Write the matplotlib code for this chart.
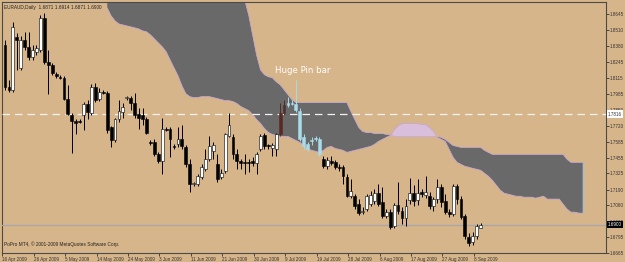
import matplotlib
matplotlib.use("Agg")
import matplotlib.pyplot as plt
import numpy as np

# ---------------- data ----------------
title_text = "EURAUD,Daily  1.6871 1.6914 1.6871 1.6900"
footer_text = "PoPro MT4, \u00a9 2001-2009 MetaQuotes Software Corp."
annotation_text = "Huge Pin bar"

opens = [1.8389, 1.8043, 1.8018, 1.8455, 1.8199, 1.8431, 1.8373, 1.8290, 1.8332, 1.8348,
         1.8612, 1.8249, 1.8224, 1.8150, 1.8125, 1.8117, 1.7944, 1.7812, 1.7762, 1.7762,
         1.7812, 1.7903, 1.7828, 1.8043, 1.7944, 1.8002, 1.7994, 1.7705, 1.7597, 1.7771,
         1.7837, 1.7952, 1.7952, 1.7911, 1.7820, 1.7812, 1.7779, 1.7581, 1.7581, 1.7482,
         1.7424, 1.7688, 1.7688, 1.7548, 1.7564, 1.7606, 1.7540, 1.7399, 1.7234, 1.7234,
         1.7292, 1.7358, 1.7441, 1.7507, 1.7399, 1.7292, 1.7342, 1.7630, 1.7622, 1.7482,
         1.7424, 1.7416, 1.7416, 1.7424, 1.7408, 1.7523, 1.7639, 1.7556, 1.7531, 1.7523,
         1.7647, 1.7828, 1.7894, 1.7911, 1.7903, 1.7845, 1.7622, 1.7564, 1.7597, 1.7614,
         1.7606, 1.7441, 1.7383, 1.7424, 1.7416, 1.7375, 1.7375, 1.7292, 1.7135, 1.7135,
         1.7069, 1.7003, 1.7028, 1.7069, 1.7094, 1.7160, 1.7086, 1.6970, 1.7003, 1.6888,
         1.7061, 1.7012, 1.6954, 1.7102, 1.7160, 1.7102, 1.7168, 1.7144, 1.7135, 1.7053,
         1.7111, 1.7210, 1.7094, 1.7003, 1.6987, 1.7218, 1.7111, 1.6970, 1.6797, 1.6756,
         1.6805, 1.6871]
highs = [1.8431, 1.8101, 1.8579, 1.8488, 1.8464, 1.8497, 1.8497, 1.8389, 1.8389, 1.8637,
         1.8653, 1.8348, 1.8241, 1.8166, 1.8142, 1.8134, 1.8059, 1.7828, 1.7779, 1.7771,
         1.7919, 1.7936, 1.8068, 1.8076, 1.8035, 1.8018, 1.8010, 1.7721, 1.7787, 1.7936,
         1.7911, 1.7969, 1.7969, 1.7994, 1.7870, 1.7870, 1.7795, 1.7597, 1.7606, 1.7498,
         1.7787, 1.7705, 1.7705, 1.7564, 1.7705, 1.7729, 1.7556, 1.7441, 1.7251, 1.7317,
         1.7399, 1.7523, 1.7630, 1.7581, 1.7482, 1.7358, 1.7663, 1.7828, 1.7647, 1.7523,
         1.7441, 1.7482, 1.7441, 1.7457, 1.7498, 1.7647, 1.7663, 1.7564, 1.7573, 1.7663,
         1.7911, 1.7936, 1.7960, 1.7936, 1.8101, 1.7870, 1.7647, 1.7581, 1.7622, 1.7630,
         1.7622, 1.7465, 1.7457, 1.7465, 1.7432, 1.7399, 1.7391, 1.7317, 1.7276, 1.7152,
         1.7111, 1.7045, 1.7152, 1.7177, 1.7193, 1.7234, 1.7210, 1.7028, 1.7028, 1.7078,
         1.7251, 1.7045, 1.7111, 1.7284, 1.7226, 1.7276, 1.7193, 1.7300, 1.7168, 1.7127,
         1.7276, 1.7234, 1.7152, 1.7028, 1.7234, 1.7234, 1.7135, 1.6987, 1.6830, 1.6838,
         1.6904, 1.6914]
lows = [1.8018, 1.8002, 1.8002, 1.8183, 1.8183, 1.8348, 1.8265, 1.8265, 1.8307, 1.8332,
        1.8233, 1.7985, 1.8142, 1.8117, 1.8109, 1.7936, 1.7804, 1.7490, 1.7647, 1.7738,
        1.7680, 1.7771, 1.7812, 1.7919, 1.7927, 1.7985, 1.7663, 1.7540, 1.7581, 1.7754,
        1.7787, 1.7936, 1.7853, 1.7787, 1.7688, 1.7729, 1.7647, 1.7556, 1.7465, 1.7408,
        1.7317, 1.7672, 1.7457, 1.7523, 1.7540, 1.7523, 1.7375, 1.7168, 1.7218, 1.7218,
        1.7276, 1.7342, 1.7424, 1.7441, 1.7251, 1.7276, 1.7325, 1.7622, 1.7441, 1.7358,
        1.7358, 1.7317, 1.7333, 1.7383, 1.7317, 1.7507, 1.7523, 1.7523, 1.7465, 1.7465,
        1.7630, 1.7812, 1.7878, 1.7894, 1.7837, 1.7589, 1.7523, 1.7507, 1.7556, 1.7589,
        1.7465, 1.7366, 1.7358, 1.7391, 1.7358, 1.7342, 1.7234, 1.7127, 1.7119, 1.7028,
        1.6979, 1.6987, 1.7012, 1.7053, 1.7069, 1.7053, 1.6954, 1.6954, 1.6863, 1.6871,
        1.6987, 1.6904, 1.6888, 1.7069, 1.7053, 1.7061, 1.7127, 1.7119, 1.7028, 1.7012,
        1.7078, 1.7045, 1.6987, 1.6962, 1.6970, 1.7069, 1.6946, 1.6781, 1.6723, 1.6731,
        1.6781, 1.6871]
closes = [1.8043, 1.8018, 1.8538, 1.8431, 1.8431, 1.8373, 1.8290, 1.8348, 1.8365, 1.8612,
          1.8249, 1.8224, 1.8158, 1.8134, 1.8117, 1.7944, 1.7820, 1.7762, 1.7738, 1.7746,
          1.7903, 1.7837, 1.8043, 1.7936, 1.8002, 1.7994, 1.7680, 1.7597, 1.7771, 1.7845,
          1.7878, 1.7960, 1.7911, 1.7804, 1.7787, 1.7779, 1.7663, 1.7573, 1.7482, 1.7424,
          1.7688, 1.7680, 1.7606, 1.7540, 1.7606, 1.7548, 1.7399, 1.7234, 1.7243, 1.7300,
          1.7375, 1.7441, 1.7548, 1.7556, 1.7276, 1.7325, 1.7647, 1.7729, 1.7482, 1.7424,
          1.7408, 1.7408, 1.7408, 1.7408, 1.7482, 1.7630, 1.7548, 1.7548, 1.7556, 1.7647,
          1.7828, 1.7894, 1.7911, 1.7903, 1.7853, 1.7606, 1.7548, 1.7523, 1.7589, 1.7606,
          1.7482, 1.7383, 1.7432, 1.7408, 1.7375, 1.7366, 1.7300, 1.7135, 1.7177, 1.7053,
          1.6995, 1.7012, 1.7135, 1.7144, 1.7160, 1.7069, 1.6970, 1.7003, 1.6880, 1.7061,
          1.7012, 1.6954, 1.7053, 1.7160, 1.7094, 1.7160, 1.7152, 1.7168, 1.7053, 1.7111,
          1.7210, 1.7086, 1.7003, 1.6987, 1.7218, 1.7111, 1.6962, 1.6805, 1.6748, 1.6805,
          1.6888, 1.6900]

# Ichimoku cloud spans, plotted 26 bars ahead (bars 26 .. 147)
span_start = 26
span_a = [1.8695, 1.8629, 1.8587, 1.8562, 1.8554, 1.8546, 1.8538, 1.8530, 1.8521, 1.8505,
          1.8497, 1.8472, 1.8439, 1.8406, 1.8373, 1.8332, 1.8265, 1.8199, 1.8134, 1.8051,
          1.7985, 1.7960, 1.7952, 1.7952, 1.7960, 1.7960, 1.7960, 1.7952, 1.7944, 1.7936,
          1.7927, 1.7927, 1.7919, 1.7903, 1.7878, 1.7861, 1.7845, 1.7812, 1.7771, 1.7738,
          1.7696, 1.7663, 1.7647, 1.7639, 1.7630, 1.7630, 1.7630, 1.7614, 1.7597, 1.7581,
          1.7556, 1.7531, 1.7515, 1.7507, 1.7498, 1.7515, 1.7540, 1.7548, 1.7531, 1.7523,
          1.7515, 1.7498, 1.7507, 1.7515, 1.7523, 1.7531, 1.7540, 1.7548, 1.7564, 1.7589,
          1.7606, 1.7622, 1.7639, 1.7688, 1.7721, 1.7738, 1.7738, 1.7738, 1.7738, 1.7738,
          1.7729, 1.7729, 1.7705, 1.7672, 1.7622, 1.7606, 1.7589, 1.7523, 1.7457, 1.7416,
          1.7399, 1.7383, 1.7375, 1.7366, 1.7358, 1.7350, 1.7325, 1.7300, 1.7267, 1.7226,
          1.7185, 1.7160, 1.7152, 1.7144, 1.7135, 1.7135, 1.7127, 1.7127, 1.7127, 1.7119,
          1.7127, 1.7135, 1.7111, 1.7111, 1.7111, 1.7111, 1.7069, 1.7028, 1.7003, 1.7003,
          1.6995, 1.6995]
span_b = [1.8950, 1.8950, 1.8950, 1.8950, 1.8950, 1.8950, 1.8950, 1.8950, 1.8950, 1.8950,
          1.8950, 1.8950, 1.8950, 1.8950, 1.8950, 1.8950, 1.8950, 1.8950, 1.8950, 1.8950,
          1.8860, 1.8860, 1.8860, 1.8860, 1.8860, 1.8860, 1.8860, 1.8860, 1.8860, 1.8860,
          1.8860, 1.8860, 1.8860, 1.8800, 1.8800, 1.8760, 1.8637, 1.8472, 1.8307, 1.8183,
          1.8142, 1.8125, 1.8117, 1.8084, 1.8059, 1.8018, 1.7977, 1.7936, 1.7911, 1.7911,
          1.7911, 1.7911, 1.7911, 1.7911, 1.7911, 1.7911, 1.7911, 1.7911, 1.7911, 1.7911,
          1.7911, 1.7911, 1.7837, 1.7771, 1.7705, 1.7672, 1.7663, 1.7663, 1.7655, 1.7655,
          1.7655, 1.7647, 1.7647, 1.7630, 1.7630, 1.7630, 1.7630, 1.7630, 1.7630, 1.7630,
          1.7630, 1.7630, 1.7630, 1.7630, 1.7630, 1.7622, 1.7606, 1.7581, 1.7556, 1.7548,
          1.7540, 1.7540, 1.7540, 1.7540, 1.7540, 1.7540, 1.7515, 1.7498, 1.7482, 1.7482,
          1.7482, 1.7482, 1.7482, 1.7482, 1.7482, 1.7482, 1.7482, 1.7482, 1.7482, 1.7482,
          1.7482, 1.7482, 1.7482, 1.7482, 1.7482, 1.7482, 1.7482, 1.7441, 1.7416, 1.7416,
          1.7416, 1.7416]

y_ticks = [1.8645, 1.8510, 1.8380, 1.8245, 1.8115, 1.7985, 1.7850, 1.7720, 1.7585, 1.7455,
           1.7325, 1.7190, 1.7060, 1.6925, 1.6795, 1.6665]
x_tick_bars = [0, 8, 16, 24, 32, 40, 48, 56, 64, 72, 80, 88, 96, 104, 112, 120]
x_tick_labels = ["16 Apr 2009", "26 Apr 2009", "5 May 2009", "14 May 2009", "24 May 2009",
                 "3 Jun 2009", "11 Jun 2009", "21 Jun 2009", "30 Jun 2009", "9 Jul 2009",
                 "19 Jul 2009", "28 Jul 2009", "6 Aug 2009", "17 Aug 2009", "27 Aug 2009",
                 "8 Sep 2009"]
marker_level = 1.7816
bid_level = 1.6900
pin_bar_index = 74

# ---------------- style ----------------
BG = "#d7b58a"
CLOUD_DARK = "#696969"
CLOUD_PINK = "#d9bfdc"
SPAN_LINE = "#c9a9cf"
FONT = "Liberation Sans"
special_colors = {70: "#5a2a22", 71: "#4a3030", 72: "#a9dbe9", 73: "#a9dbe9", 74: "#a9dbe9",
                  75: "#a9dbe9", 76: "#a9dbe9", 77: "#a9dbe9", 78: "#a9dbe9", 79: "#a9dbe9",
                  80: "#a9dbe9"}

fig = plt.figure(figsize=(6.25, 2.62), dpi=100)
fig.patch.set_facecolor(BG)
ax = fig.add_axes([2 / 625, 9 / 262, 604 / 625, 251 / 262])
ax.set_facecolor(BG)

# cloud
sx = np.arange(span_start, span_start + len(span_a))
sa = np.array(span_a)
sb = np.array(span_b)
ax.fill_between(sx, sa, sb, where=sb >= sa, color=CLOUD_DARK, interpolate=True, lw=0, zorder=1)
ax.fill_between(sx, sa, sb, where=sa > sb, color=CLOUD_PINK, interpolate=True, lw=0, zorder=1)
ax.plot(sx, sa, color=SPAN_LINE, lw=0.6, zorder=2)
ax.plot(sx, sb, color=SPAN_LINE, lw=0.6, zorder=2)
ax.vlines(sx[-1], sa[-1], sb[-1], color="#a8bccb", lw=1.0, zorder=2)

# horizontal levels
ax.axhline(marker_level, color="#f2f2f2", lw=0.9, ls=(0, (6, 4)), zorder=3)
ax.axhline(bid_level, color="#a4a8ac", lw=0.9, zorder=3)

# candles
n = len(opens)
o = np.array(opens); h = np.array(highs); l = np.array(lows); c = np.array(closes)
for i in range(n):
    bull = c[i] >= o[i]
    col = special_colors.get(i, "white" if bull else "black")
    wick_col = col if i in special_colors else "black"
    ax.vlines(i, l[i], h[i], color=wick_col, lw=0.7, zorder=4)
    bottom = min(o[i], c[i])
    height = max(abs(c[i] - o[i]), 0.0004)
    ax.bar(i, height, bottom=bottom, width=0.72, color=col,
           edgecolor=("black" if i not in special_colors else col), lw=0.4, zorder=5)

# annotation
ax.text(pin_bar_index + 1.8, h[pin_bar_index] + 0.0035, annotation_text, color="white",
        fontsize=6.2, ha="center", va="bottom", family="DejaVu Sans", zorder=6)

# axes ranges
ax.set_xlim(-0.76, 152.9)
ax.set_ylim(1.6671, 1.8744)

# y ticks on right
ax.yaxis.tick_right()
ax.set_yticks(y_ticks)
ax.set_yticklabels([f"{v:.4f}" for v in y_ticks])
ax.tick_params(axis="y", direction="out", length=2, width=0.6, pad=1, labelsize=3.3,
               colors="#333333")
ax.set_xticks([b - 0.7 for b in x_tick_bars])
ax.set_xticklabels(x_tick_labels)
ax.tick_params(axis="x", direction="out", length=2, width=0.6, pad=1, labelsize=3.3,
               colors="#333333")
for lab in ax.get_xticklabels():
    lab.set_ha("left")
for lab in ax.get_yticklabels() + ax.get_xticklabels():
    lab.set_family(FONT)

for sp in ax.spines.values():
    sp.set_color("#4a4a4a")
    sp.set_linewidth(0.8)

# right-side price boxes
ax.text(1.003, marker_level, "1.7816", transform=ax.get_yaxis_transform(), fontsize=3.3,
        family=FONT, color="#333333", va="center", ha="left",
        bbox=dict(boxstyle="square,pad=0.25", fc="white", ec="none"), clip_on=False, zorder=7)
ax.text(1.003, bid_level, "1.6900", transform=ax.get_yaxis_transform(), fontsize=3.3,
        family=FONT, color="white", va="center", ha="left",
        bbox=dict(boxstyle="square,pad=0.25", fc="black", ec="none"), clip_on=False, zorder=7)

# title and footer
ax.text(0.004, 0.988, title_text, transform=ax.transAxes, fontsize=3.4, family=FONT,
        color="#222222", va="top", ha="left")
ax.text(0.004, 0.022, footer_text, transform=ax.transAxes, fontsize=3.4, family=FONT,
        color="#222222", va="bottom", ha="left")

fig.savefig("out.png", dpi=100, facecolor=BG)
